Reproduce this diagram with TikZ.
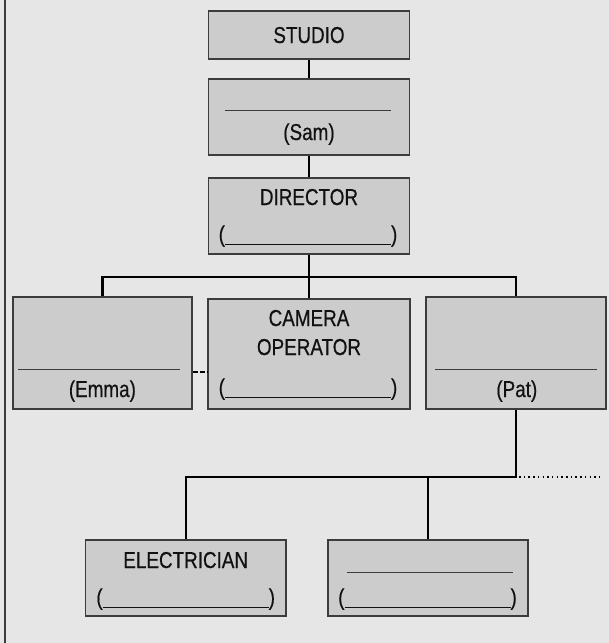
\documentclass[tikz,border=0pt]{standalone}
\usepackage{fontspec}
\setmainfont{Liberation Sans}[FakeStretch=0.82,FakeBold=0.5]
\definecolor{bg}{HTML}{E6E6E6}
\definecolor{boxfill}{HTML}{CCCCCC}
\definecolor{boxline}{HTML}{3C3C3C}
\definecolor{txt}{HTML}{111111}
\begin{document}
\begin{tikzpicture}[x=1pt,y=-1pt,
  orgbox/.style={draw=boxline,fill=boxfill,line width=1.2pt,rectangle,inner sep=0pt},
  lbl/.style={inner sep=0pt,anchor=base,text=txt,font=\fontsize{23}{27}\selectfont},
  conn/.style={line width=2.2pt,black},
  blank/.style={line width=1pt,boxline}]
\useasboundingbox (0,0) rectangle (609,643);
\fill[bg] (0,0) rectangle (609,643);
\draw[line width=2pt,boxline] (4.5,0) -- (4.5,643);
% boxes
\node[orgbox,minimum width=201pt,minimum height=48pt] (studio) at (309,35) {};
\node[orgbox,minimum width=201pt,minimum height=76pt] (sam) at (309,117) {};
\node[orgbox,minimum width=201pt,minimum height=76pt] (director) at (309,216) {};
\node[orgbox,minimum width=179pt,minimum height=112pt] (emma) at (102.4,353) {};
\node[orgbox,minimum width=202pt,minimum height=110pt] (camera) at (309,354) {};
\node[orgbox,minimum width=180pt,minimum height=112pt] (pat) at (516,353) {};
\node[orgbox,minimum width=200.6pt,minimum height=76pt] (elec) at (185.7,578) {};
\node[orgbox,minimum width=200pt,minimum height=76pt] (blankbox) at (428,578) {};
% texts
\node[lbl] (tstudio) at (309,43) {STUDIO};
\coordinate (samA) at (224.5,110); \coordinate (samB) at (391,110);
\draw[blank] (samA) -- (samB);
\node[lbl] (tsam) at (309,140) {(Sam)};
\node[lbl] (tdir) at (309,205) {DIRECTOR};
\node[lbl] (tdirp) at (308,242) {(\rule[-2.5pt]{166pt}{1pt})};
\node[lbl] (tcam1) at (309,326) {CAMERA};
\node[lbl] (tcam2) at (309,355) {OPERATOR};
\node[lbl] (tcamp) at (308,395) {(\rule[-3pt]{166pt}{1pt})};
\coordinate (emA) at (18,369); \coordinate (emB) at (180,369);
\draw[blank] (emA) -- (emB);
\node[lbl] (temma) at (102.4,397) {(Emma)};
\coordinate (paA) at (435,369); \coordinate (paB) at (597,369);
\draw[blank] (paA) -- (paB);
\node[lbl] (tpat) at (516.8,397) {(Pat)};
\node[lbl] (telec) at (185.7,568) {ELECTRICIAN};
\node[lbl] (telecp) at (185.7,605) {(\rule[-2.5pt]{166pt}{1pt})};
\coordinate (blA) at (347,572); \coordinate (blB) at (513,572);
\draw[blank] (blA) -- (blB);
\node[lbl] (tblp) at (427.5,605) {(\rule[-2.5pt]{166pt}{1pt})};
% connectors
\coordinate (bus) at (310,277);
\coordinate (bus2) at (428,477);
\coordinate (dotend) at (603,477);
\draw[conn] (studio.south) -- (sam.north);
\draw[conn] (sam.south) -- (director.north);
\draw[conn] (director.south) -- (camera.north);
\draw[conn] (emma.north) |- (bus) -| (pat.north);
\draw[conn] (pat.south) |- (bus2) -| (elec.north);
\draw[conn] (blankbox.north |- bus2) -- (blankbox.north);
\draw[line width=2pt,black,dash pattern=on 5pt off 2pt] (emma.east |- 0,372) -- (camera.west |- 0,372);
\draw[line width=1.6pt,black,dash pattern=on 1.5pt off 3.2pt] (pat.south |- bus2) ++(3,0) -- (dotend);
\end{tikzpicture}
\end{document}
